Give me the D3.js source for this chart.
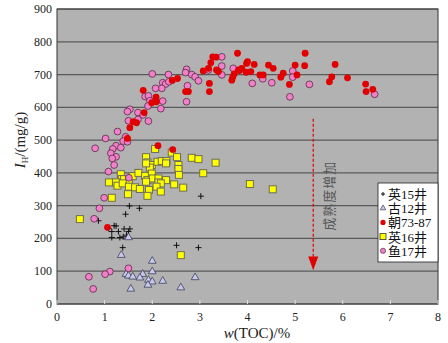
<!DOCTYPE html>
<html>
<head>
<meta charset="utf-8">
<script src="https://cdn.jsdelivr.net/npm/d3@7"></script>
<style>
  body { margin: 0; background: #fff; }
  svg text { font-family: "Liberation Serif", "Noto Sans CJK SC", serif; }
</style>
</head>
<body>
<div id="chart"></div>
<script>
// tick values
const xTicks = [0, 1, 2, 3, 4, 5, 6, 7, 8];
const yTicks = [0, 100, 200, 300, 400, 500, 600, 700, 800, 900];

const seriesNames = ["英15井", "古12井", "朝73-87", "英16井", "鱼17井"];

// 英15井 (+)
const ying15 = [[1.52,299],[1.73,292],[1.44,274],[0.87,254],[1.20,239],[1.24,238],[1.08,231],[1.15,221],
  [1.29,221],[1.41,229],[1.53,229],[1.50,221],[1.15,203],[1.32,203],[1.39,205],[1.46,210],[1.38,172],
  [2.51,179],[2.97,172],[3.02,329]];

// 古12井 (triangle)
const gu12 = [[1.50,203],[1.35,149],[2.00,131],[2.00,99],[1.45,91],[1.50,86],[1.59,83],[1.80,91],[1.74,80],
  [1.92,73],[2.00,68],[1.91,58],[2.22,70],[1.55,46],[2.60,50],[2.90,81]];

// 朝73-87 (red dot)
const chao = [[1.06,234],[1.53,538],[2.12,483],[2.43,471],[1.81,652],[2.08,631],[2.09,617],[1.99,614],
  [1.83,584],[1.60,556],[1.67,553],[1.48,505],[2.42,682],[2.53,688],[2.70,648],[2.76,648],[3.07,711],
  [3.20,673],[3.20,648],[3.18,719],[3.23,736],[3.27,754],[3.34,753],[3.35,714],[3.39,709],[3.79,765],
  [3.67,683],[3.69,692],[3.72,702],[3.81,714],[3.88,719],[3.83,712],[3.98,734],[4.00,739],[3.97,707],
  [4.07,709],[4.14,731],[4.26,699],[4.33,699],[4.44,729],[4.54,719],[4.70,692],[4.75,704],[4.88,670],
  [5.00,729],[5.04,699],[5.21,765],[5.20,727],[5.84,731],[5.77,693],[5.72,678],[6.10,690],[6.48,671],
  [6.49,648],[6.63,655]];

// 英16井 (yellow square)
const ying16 = [[2.06,473],[1.87,448],[1.90,432],[1.99,424],[1.95,416],[1.87,429],[2.11,434],[2.20,436],
  [2.30,436],[2.29,429],[2.41,462],[2.52,448],[2.55,424],[2.55,412],[2.56,394],[2.83,446],[2.97,442],
  [1.34,396],[1.36,381],[1.41,381],[1.51,378],[1.59,390],[1.71,400],[1.85,391],[1.90,378],[1.99,398],
  [2.01,383],[2.13,383],[2.13,371],[2.29,378],[2.18,368],[2.09,358],[1.87,373],[1.09,371],[1.24,371],
  [1.27,361],[1.38,368],[1.51,358],[1.64,356],[1.74,351],[1.93,348],[1.90,330],[2.18,343],[2.46,365],
  [2.65,355],[1.49,335],[1.15,324],[0.48,259],[3.07,399],[3.33,431],[4.05,366],[4.53,350],[2.60,149]];

// 鱼17井 (pink circle)
const yu17 = [[2.00,702],[2.34,700],[2.72,716],[2.70,706],[2.83,700],[2.90,693],[2.97,681],[2.74,666],
  [2.72,617],[2.22,675],[2.28,671],[2.35,678],[2.20,658],[2.07,658],[1.85,633],[1.92,635],[1.95,620],
  [2.22,619],[1.91,604],[2.18,596],[1.53,594],[1.48,587],[1.70,584],[1.81,577],[1.70,563],[1.50,559],
  [1.92,558],[1.27,526],[1.02,505],[1.44,510],[3.18,714],[3.46,754],[3.46,726],[3.46,699],[3.70,719],
  [4.10,673],[4.32,687],[4.51,675],[4.89,632],[4.95,711],[4.95,692],[5.30,670],[6.67,640],
  [1.39,497],[1.48,495],[1.24,483],[1.34,477],[1.17,473],[0.80,475],[1.13,460],[1.24,449],[1.16,444],
  [1.20,424],[1.08,404],[1.51,385],[0.99,324],[0.89,292],[0.78,260],[1.50,109],[1.11,99],[1.01,91],
  [0.67,83],[0.76,46]];

const W = 448, H = 343;
const margin = {top: 9, right: 10, bottom: 39, left: 57};
const pw = W - margin.left - margin.right;
const ph = H - margin.top - margin.bottom;

const svg = d3.select("#chart").append("svg")
    .attr("width", W)
    .attr("height", H);

const g = svg.append("g")
    .attr("transform", `translate(${margin.left},${margin.top})`);

const x = d3.scaleLinear().domain([0, 8]).range([0, pw]);
const y = d3.scaleLinear().domain([0, 900]).range([ph, 0]);

// plot background
g.append("rect")
    .attr("width", pw)
    .attr("height", ph)
    .attr("fill", "#b2b2b2");

// grid lines
g.selectAll(".grid")
    .data(yTicks)
    .enter()
    .append("line")
    .attr("x1", 0)
    .attr("x2", pw)
    .attr("y1", d => y(d))
    .attr("y2", d => y(d))
    .attr("stroke", "#5a5a5a")
    .attr("stroke-width", 1.2);

// frame
g.append("rect")
    .attr("width", pw)
    .attr("height", ph)
    .attr("fill", "none")
    .attr("stroke", "#333")
    .attr("stroke-width", 1);

// small x ticks on bottom
g.selectAll(".xtick")
    .data(xTicks)
    .enter()
    .append("line")
    .attr("x1", d => x(d))
    .attr("x2", d => x(d))
    .attr("y1", ph - 4)
    .attr("y2", ph)
    .attr("stroke", "#e0e0e0");

// tick labels
g.selectAll(".xlab")
    .data(xTicks)
    .enter()
    .append("text")
    .attr("x", d => x(d))
    .attr("y", ph + 17)
    .attr("text-anchor", "middle")
    .attr("font-size", 12)
    .attr("fill", "#222")
    .text(d => d);

g.selectAll(".ylab")
    .data(yTicks)
    .enter()
    .append("text")
    .attr("x", -5)
    .attr("y", d => y(d) + 4)
    .attr("text-anchor", "end")
    .attr("font-size", 12)
    .attr("fill", "#222")
    .text(d => d);

// axis titles
const xt = svg.append("text")
    .attr("x", 257)
    .attr("y", 338)
    .attr("text-anchor", "middle")
    .attr("font-size", 15)
    .attr("fill", "#222");
xt.append("tspan").attr("font-style", "italic").text("w");
xt.append("tspan").text("(TOC)/%");

const yt = svg.append("text")
    .attr("transform", "translate(25,140) rotate(-90)")
    .attr("text-anchor", "middle")
    .attr("font-size", 15)
    .attr("fill", "#222");
yt.append("tspan").attr("font-style", "italic").text("I");
yt.append("tspan").attr("font-size", 9).attr("dy", 3).text("H");
yt.append("tspan").attr("dy", -3).text("/(mg/g)");

// markers
const tri = d3.symbol().type(d3.symbolTriangle).size(26);

g.append("g").selectAll("path")
    .data(ying15)
    .enter()
    .append("path")
    .attr("d", d => `M${x(d[0]) - 3},${y(d[1])}h6M${x(d[0])},${y(d[1]) - 3}v6`)
    .attr("stroke", "#111")
    .attr("stroke-width", 1);

g.append("g").selectAll("path")
    .data(gu12)
    .enter()
    .append("path")
    .attr("d", tri)
    .attr("transform", d => `translate(${x(d[0])},${y(d[1])})`)
    .attr("fill", "#c8c8ee")
    .attr("stroke", "#404058")
    .attr("stroke-width", 0.8);

g.append("g").selectAll("rect")
    .data(ying16)
    .enter()
    .append("rect")
    .attr("x", d => x(d[0]) - 3.5)
    .attr("y", d => y(d[1]) - 3.5)
    .attr("width", 7)
    .attr("height", 7)
    .attr("fill", "#ffff00")
    .attr("stroke", "#6e6e50")
    .attr("stroke-width", 1);

g.append("g").selectAll("circle")
    .data(yu17)
    .enter()
    .append("circle")
    .attr("cx", d => x(d[0]))
    .attr("cy", d => y(d[1]))
    .attr("r", 3.4)
    .attr("fill", "#f080c8")
    .attr("stroke", "#5a2a48")
    .attr("stroke-width", 0.8);

g.append("g").selectAll("circle")
    .data(chao)
    .enter()
    .append("circle")
    .attr("cx", d => x(d[0]))
    .attr("cy", d => y(d[1]))
    .attr("r", 3.4)
    .attr("fill", "#e00000");

// maturity arrow
const ax = x(5.38);
g.append("line")
    .attr("x1", ax).attr("x2", ax)
    .attr("y1", y(565)).attr("y2", y(140))
    .attr("stroke", "#e00000")
    .attr("stroke-width", 1.2)
    .attr("stroke-dasharray", "3,2");
g.append("path")
    .attr("d", `M${ax - 5},${y(145)}L${ax + 5},${y(145)}L${ax},${y(103)}Z`)
    .attr("fill", "#e00000");

g.append("text")
    .attr("transform", `translate(${x(5.38) + 21},${y(330)}) rotate(-90)`)
    .attr("text-anchor", "middle")
    .attr("font-size", 13)
    .attr("letter-spacing", 1)
    .attr("fill", "#555")
    .text("成熟度增加");

// legend
const lg = svg.append("g").attr("transform", "translate(378,183)");
lg.append("rect")
    .attr("width", 60)
    .attr("height", 79)
    .attr("fill", "#fff")
    .attr("stroke", "#222")
    .attr("stroke-width", 0.8);

const rows = lg.selectAll(".row")
    .data(seriesNames)
    .enter()
    .append("g")
    .attr("transform", (d, i) => `translate(0,${11 + i * 14.2})`);

rows.append("text")
    .attr("x", 10)
    .attr("y", 5)
    .attr("font-size", 13)
    .attr("fill", "#111")
    .text(d => d);

rows.each(function(d, i) {
    const r = d3.select(this);
    if (i === 0) {
        r.append("path").attr("d", "M3,0h4M5,-2v4").attr("stroke", "#111");
    } else if (i === 1) {
        r.append("path").attr("d", d3.symbol().type(d3.symbolTriangle).size(14))
            .attr("transform", "translate(5,0)")
            .attr("fill", "#c8c8ee").attr("stroke", "#404058").attr("stroke-width", 0.7);
    } else if (i === 2) {
        r.append("circle").attr("cx", 5).attr("r", 2.6).attr("fill", "#e00000");
    } else if (i === 3) {
        r.append("rect").attr("x", 2).attr("y", -3).attr("width", 6).attr("height", 6)
            .attr("fill", "#ffff00").attr("stroke", "#333").attr("stroke-width", 0.8);
    } else {
        r.append("circle").attr("cx", 5).attr("r", 2.6)
            .attr("fill", "#f080c8").attr("stroke", "#5a2a48").attr("stroke-width", 0.7);
    }
});
</script>
</body>
</html>
